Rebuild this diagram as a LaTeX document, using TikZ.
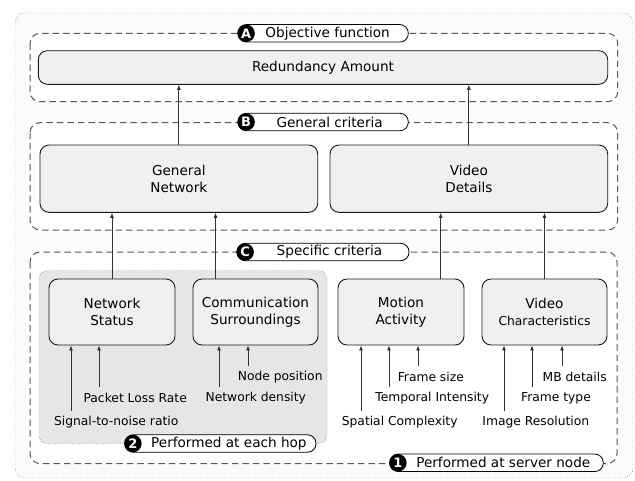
\documentclass[tikz,border=0pt]{standalone}
\usepackage{fontspec}
\setmainfont{DejaVu Sans}
\usetikzlibrary{arrows.meta}
\newcommand{\boxfont}{\fontsize{13.6}{17}\selectfont}
\newcommand{\inputfont}{\fontsize{12.3}{14}\selectfont}
\definecolor{boxgray}{HTML}{F0F0F0}
\definecolor{hopgray}{HTML}{E6E6E6}
\begin{document}
\begin{tikzpicture}[x=1pt, y=-1pt, line join=round, >={Latex[length=5pt,width=4pt]},
	crit/.style={draw=black!90, fill=boxgray, rounded corners=9pt, align=center, font=\boxfont, line width=0.9pt, inner sep=0pt},
	frame/.style={draw=black!65, fill=white, line width=1pt, dash pattern=on 6.5pt off 4pt, rounded corners=10pt},
	pill/.style={draw=black, fill=white, rounded corners=8.5pt, minimum height=17.5pt, inner sep=0pt, font=\boxfont, line width=0.8pt},
	tag/.style={circle, fill=black, text=white, inner sep=0pt, minimum size=17.5pt, font=\fontsize{13}{13}\selectfont\bfseries},
	input/.style={font=\inputfont, inner sep=0pt},
	feed/.style={->, draw=black!80, line width=0.8pt}]
	\useasboundingbox (0,0) rectangle (635,480);
	\draw[dotted, fill=black!1.5, rounded corners=10pt] (15,13) rectangle (633,478);
	% levels A, B, C and the per-hop area
	\draw[frame] (30,33.3) rectangle (617.7,101.7);
	\draw[frame] (30,122.7) rectangle (617.7,230);
	\draw[frame] (30,252) rectangle (617,463.5);
	\draw[dotted, fill=hopgray, rounded corners=8pt] (39,270.7) rectangle (327,443.5);
	
	\node[crit, minimum width=569.4, minimum height=33.6] (ra) at (323,67.5) {Redundancy Amount};
	\node[crit, minimum width=277.7, minimum height=67.3] (gn) at (178.85,178.65) {General\\Network};
	\node[crit, minimum width=277.7, minimum height=67.3] (vd) at (468.85,178.65) {Video\\Details};
	\node[crit, minimum width=126, minimum height=66] (ns) at (112,312) {Network\\Status};
	\node[crit, minimum width=125, minimum height=66] (cs) at (255.5,312) {Communication\\Surroundings};
	\node[crit, minimum width=126, minimum height=66] (ma) at (401,312) {Motion\\Activity};
	\node[crit, minimum width=125, minimum height=66] (vc) at (544.5,312) {Video\\{\inputfont Characteristics}};
	
	\draw[feed] (gn.north) -- (gn.north |- ra.south);
	\draw[feed] (vd.north) -- (vd.north |- ra.south);
	\draw[feed] (ns.north) -- (ns.north |- gn.south);
	\draw[feed] ([xshift=-40]cs.north) -- ([xshift=-40]cs.north |- gn.south);
	\draw[feed] ([xshift=39.7]ma.north) -- ([xshift=39.7]ma.north |- vd.south);
	\draw[feed] (vc.north) -- (vc.north |- vd.south);
	
	% measured inputs
	\foreach \n/\ax/\lx/\ly/\b/\t in {
		snr/71/116.2/421.7/ns/Signal-to-noise ratio,
		plr/99/135.2/398.3/ns/Packet Loss Rate,
		nd/219/255.8/398.3/cs/Network density,
		np/248/280.2/377.3/cs/Node position,
		sc/361/399.7/421.7/ma/Spatial Complexity,
		ti/389/432.2/398.3/ma/Temporal Intensity,
		fs/418/430.8/377.3/ma/Frame size,
		ir/504/535.8/421.7/vc/Image Resolution,
		ft/532/556/398.3/vc/Frame type,
		mb/562/574.7/377.3/vc/MB details}
	{
		\node[input] (\n) at (\lx,\ly) {\t};
		\coordinate (\n-in) at (\ax,\ly-11);
		\draw[feed] (\n-in) -- (\n-in |- \b.south);
	}
	
	% level labels
	\node[pill, minimum width=170.3] (pa) at (323.15,33.3) {\hspace*{9pt}Objective function};
	\node[pill, minimum width=170.3] (pb) at (323.15,122) {\hspace*{13pt}General criteria};
	\node[pill, minimum width=172] (pc) at (323,252) {\hspace*{13pt}Specific criteria};
	\node[pill, minimum width=191.2] (p2) at (220.4,443.5) {\hspace*{17pt}Performed at each hop};
	\node[pill, minimum width=213.5] (p1) at (496.55,462.8) {\hspace*{13.5pt}Performed at server node};
	\foreach \p/\l in {pa/A, pb/B, pc/C, p2/2, p1/1}
		\node[tag] (t\p) at ([xshift=8.5]\p.west) {\l};
\end{tikzpicture}
\end{document}
